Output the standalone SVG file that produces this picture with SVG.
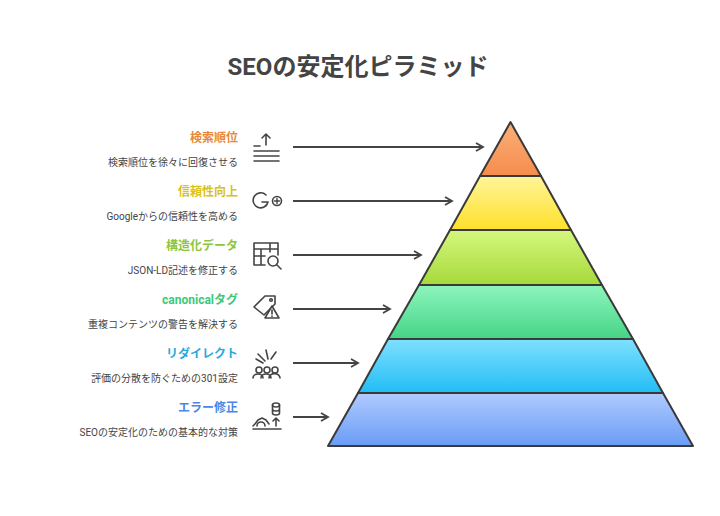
<svg xmlns="http://www.w3.org/2000/svg" width="720" height="516" viewBox="0 0 720 516">
<style>
text{font-family:Roboto,"Noto Sans CJK JP",sans-serif}
.t{font-size:12px;font-weight:bold;text-anchor:end}
.d{font-size:10px;fill:#444;text-anchor:end}
.lay{stroke:#3a3a3a;stroke-width:2;stroke-linejoin:round}
.c{stroke:#444;stroke-width:1.8;fill:none;marker-end:url(#a)}
.i{stroke:#444;stroke-width:1.6;fill:none;stroke-linecap:round;stroke-linejoin:round}
</style>
<defs>
<marker id="a" markerWidth="10" markerHeight="10" refX="8" refY="5" orient="auto" markerUnits="userSpaceOnUse"><path d="M1,1 L8,5 L1,9" fill="none" stroke="#444" stroke-width="1.8"/></marker>
<linearGradient id="g1" x1="0" y1="0" x2="0" y2="1"><stop offset="0" stop-color="#fbb07a"/><stop offset="1" stop-color="#f58c4c"/></linearGradient>
<linearGradient id="g2" x1="0" y1="0" x2="0" y2="1"><stop offset="0" stop-color="#fff59a"/><stop offset="1" stop-color="#ffe02a"/></linearGradient>
<linearGradient id="g3" x1="0" y1="0" x2="0" y2="1"><stop offset="0" stop-color="#d6f77e"/><stop offset="1" stop-color="#a6d93a"/></linearGradient>
<linearGradient id="g4" x1="0" y1="0" x2="0" y2="1"><stop offset="0" stop-color="#8ef5bd"/><stop offset="1" stop-color="#45d486"/></linearGradient>
<linearGradient id="g5" x1="0" y1="0" x2="0" y2="1"><stop offset="0" stop-color="#7fe0ff"/><stop offset="1" stop-color="#22bdf4"/></linearGradient>
<linearGradient id="g6" x1="0" y1="0" x2="0" y2="1"><stop offset="0" stop-color="#b0caff"/><stop offset="1" stop-color="#6a9cf6"/></linearGradient>
</defs>
<rect width="720" height="516" fill="#fff"/>
<text x="358" y="75" text-anchor="middle" font-size="24" font-weight="bold" fill="#444">SEOの安定化ピラミッド</text>
<g id="pyramid">
<polygon class="lay" fill="url(#g6)" points="358,393 663,393 693,446 328,446"/>
<polygon class="lay" fill="url(#g5)" points="388,339 633,339 663,393 358,393"/>
<polygon class="lay" fill="url(#g4)" points="419,285 602,285 633,339 388,339"/>
<polygon class="lay" fill="url(#g3)" points="450,230 571,230 602,285 419,285"/>
<polygon class="lay" fill="url(#g2)" points="480,176 541,176 571,230 450,230"/>
<polygon class="lay" fill="url(#g1)" points="510.5,122 541,176 480,176"/>
</g>
<g id="connectors">
<line class="c" x1="293" y1="147" x2="483" y2="147"/>
<line class="c" x1="293" y1="201" x2="452" y2="201"/>
<line class="c" x1="293" y1="255" x2="421" y2="255"/>
<line class="c" x1="293" y1="309" x2="390" y2="309"/>
<line class="c" x1="293" y1="363" x2="358" y2="363"/>
<line class="c" x1="293" y1="417" x2="328" y2="417"/>
</g>
<g id="n1"><text class="t" x="238" y="142" fill="#e8883a">検索順位</text><text class="d" x="238" y="166">検索順位を徐々に回復させる</text>
<g class="i"><path d="M266,134 V145 M262,138 L266,134 L270,138 M254,146 H260 M254,151 H279 M254,156 H279 M254,161 H279"/></g></g>
<g id="n2"><text class="t" x="238" y="196" fill="#d8c21a">信頼性向上</text><text class="d" x="238" y="220">Googleからの信頼性を高める</text>
<g class="i" stroke-width="2.4"><path d="M266,195 A7.5,7.5 0 1 0 268,202 H262"/><circle cx="277" cy="201" r="4.5"/><path d="M277,198.5 V203.5 M274.5,201 H279.5" stroke-width="1.4"/></g></g>
<g id="n3"><text class="t" x="238" y="250" fill="#8cc63f">構造化データ</text><text class="d" x="238" y="274">JSON-LD記述を修正する</text>
<g class="i"><path d="M265,265 H254 V243 H278 V255 M254,249 H278 M254,256 H265 M261,249 V265 M270,243 V252"/><circle cx="273" cy="261" r="5"/><path d="M277,265 L281,269"/></g></g>
<g id="n4"><text class="t" x="238" y="304" fill="#3cc97a">canonicalタグ</text><text class="d" x="238" y="328">重複コンテンツの警告を解決する</text>
<g class="i"><path d="M254,307 L265,296 L275,296 L275,304 L264,315 Z"/><circle cx="271" cy="300" r="1.3"/><path d="M272,306 L279,318 H265 Z" fill="#fff"/><path d="M272,310 V314 M272,316 V316.5"/></g></g>
<g id="n5"><text class="t" x="238" y="358" fill="#2aa8dc">リダイレクト</text><text class="d" x="238" y="382">評価の分散を防ぐための301設定</text>
<g class="i"><path d="M258,354 L265,361 M266,350 L268,359 M276,352 L271,359 M256,359 L263,363"/><circle cx="259" cy="370" r="3"/><circle cx="267" cy="370" r="3"/><circle cx="275" cy="370" r="3"/><path d="M253,378 A5,4 0 0 1 263,378 M261,378 A5,4 0 0 1 271,378 M269,378 A5,4 0 0 1 280,378"/></g></g>
<g id="n6"><text class="t" x="238" y="412" fill="#4a86e8">エラー修正</text><text class="d" x="238" y="436">SEOの安定化のための基本的な対策</text>
<g class="i"><ellipse cx="276" cy="405" rx="3.5" ry="2"/><path d="M272.5,405 V413 A3.5,2 0 0 0 279.5,413 V405 M272.5,409 A3.5,2 0 0 0 279.5,409 M276,426 V418 M273,421 L276,418 L279,421 M253,426 Q256,423 258,420 L262,418 L266,420 L269,424 M257,426 A4,4 0 0 1 265,426 M253,429 H281"/></g></g>
</svg>
